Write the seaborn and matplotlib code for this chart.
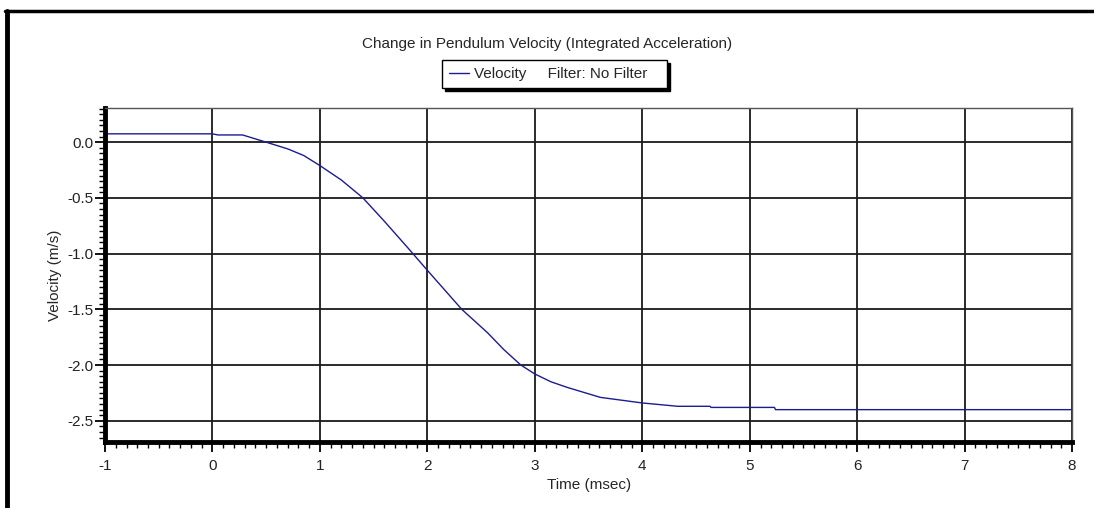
import numpy as np
import pandas as pd
import matplotlib
matplotlib.use('Agg')
import matplotlib.pyplot as plt
from matplotlib.lines import Line2D
from matplotlib.ticker import MultipleLocator
import seaborn as sns

# values
time_ms = [-1.0, 0.0, 0.05, 0.28, 0.5, 0.7, 0.85, 1.0, 1.2, 1.4, 1.6, 1.82, 2.0, 2.32,
           2.56, 2.71, 2.87, 3.0, 3.15, 3.3, 3.61, 4.0, 4.33, 4.63, 4.64, 5.23, 5.24, 8.0]
velocity = [0.075, 0.075, 0.065, 0.065, 0.0, -0.06, -0.12, -0.21, -0.34, -0.50, -0.71,
            -0.95, -1.15, -1.50, -1.71, -1.86, -2.00, -2.08, -2.15, -2.20, -2.29, -2.34,
            -2.37, -2.37, -2.38, -2.38, -2.40, -2.40]
x_ticks = [-1, 0, 1, 2, 3, 4, 5, 6, 7, 8]
y_ticks = [0.0, -0.5, -1.0, -1.5, -2.0, -2.5]

df = pd.DataFrame({'time': time_ms, 'velocity': velocity})

sns.set_style('white')
plt.rcParams['font.family'] = ['Liberation Sans', 'DejaVu Sans']
plt.rcParams['axes.unicode_minus'] = False

fs = 11

fig = plt.figure(figsize=(10.94, 5.08), dpi=100)
ax = fig.add_axes([0.096, 0.130, 0.884, 0.657])

sns.lineplot(data=df, x='time', y='velocity', ax=ax, color='#1c1c8f', linewidth=1.0,
             estimator=None, sort=False, label='Velocity     Filter: No Filter   ', legend=False)

ax.set_xlim(-1, 8)
ax.set_ylim(-2.69, 0.305)
ax.set_xticks(x_ticks)
ax.set_yticks(y_ticks)
ax.set_yticklabels([f'{v:.1f}' for v in y_ticks])
ax.xaxis.set_minor_locator(MultipleLocator(0.1))
ax.yaxis.set_minor_locator(MultipleLocator(0.05))

ax.grid(True, which='major', color='#1a1a1a', linewidth=1.3)
ax.set_axisbelow(True)

for side in ['left', 'bottom']:
    ax.spines[side].set_linewidth(3.5)
    ax.spines[side].set_color('black')
for side in ['top', 'right']:
    ax.spines[side].set_linewidth(1.0)
    ax.spines[side].set_color('#555555')
    ax.spines[side].set_visible(True)

ax.tick_params(which='major', direction='out', length=7, width=1.3, color='black',
               labelsize=fs, labelcolor='#222222', bottom=True, left=True)
ax.tick_params(axis='x', which='major', pad=5)
ax.tick_params(axis='y', which='major', pad=1)
ax.tick_params(which='minor', direction='out', length=4, width=1.0, color='black',
               bottom=True, left=True)

ax.set_xlabel('Time (msec)', fontsize=fs, labelpad=4)
ax.set_ylabel('Velocity (m/s)', fontsize=fs, labelpad=4)

fig.text(0.5, 0.913, 'Change in Pendulum Velocity (Integrated Acceleration)',
         ha='center', va='center', fontsize=fs)

handles, labels = ax.get_legend_handles_labels()
leg = fig.legend(handles, labels, loc='center', bbox_to_anchor=(0.507, 0.854),
                 fancybox=False, shadow={'color': 'black', 'alpha': 1.0},
                 framealpha=1, edgecolor='black', fontsize=fs, handlelength=1.3,
                 handletextpad=0.3, borderpad=0.45, borderaxespad=0)
leg.get_frame().set_linewidth(1.0)

# outer frame of the original graphic (top and left edges)
fig.add_artist(Line2D([0.0068, 0.0068], [0.0, 0.978], transform=fig.transFigure,
                      color='black', linewidth=3.5))
fig.add_artist(Line2D([0.005, 1.0], [0.978, 0.978], transform=fig.transFigure,
                      color='black', linewidth=2.5))

fig.savefig('out.png', dpi=100)
